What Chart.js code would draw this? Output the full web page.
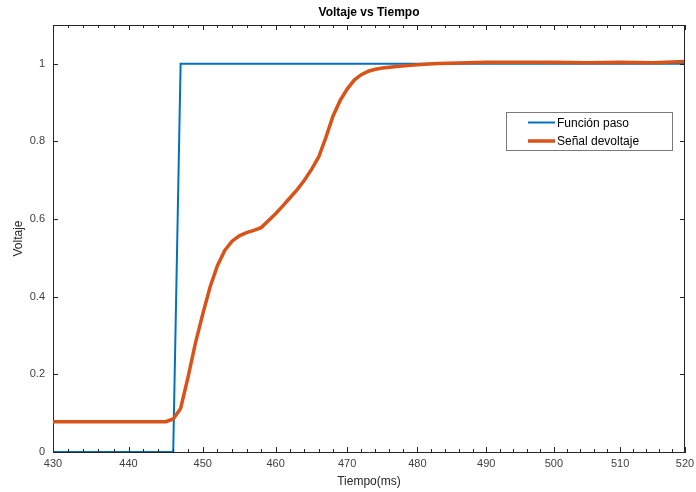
<!DOCTYPE html>
<html>
<head>
<meta charset="utf-8">
<script src="https://cdn.jsdelivr.net/npm/chart.js@4/dist/chart.umd.min.js"></script>
<style>
  html, body { margin: 0; padding: 0; background: #fff; }
</style>
</head>
<body>
<canvas id="myChart" width="696" height="492"></canvas>
<script>
// step input (blue line)
const stepTime = [430, 446, 447, 520];
const stepVolt = [0, 0, 1, 1];

const signalTime = [430, 445, 446, 447, 448, 449, 450, 451, 452, 453, 454, 455, 456, 457, 458, 459,
    460, 461, 462, 463, 464, 465, 466, 467, 468, 469, 470, 471, 472, 473, 474, 475, 477, 479, 481,
    483, 486, 490, 495, 500, 505, 510, 515, 518, 520];
const signalVolt = [0.078, 0.078, 0.085, 0.112, 0.192, 0.28, 0.355, 0.425, 0.48, 0.519, 0.543, 0.557, 0.565, 0.571, 0.578, 0.596,
    0.614, 0.634, 0.655, 0.676, 0.70, 0.728, 0.76, 0.81, 0.865, 0.905, 0.935, 0.958, 0.972, 0.981, 0.986, 0.989, 0.993, 0.996, 0.999,
    1.001, 1.002, 1.004, 1.004, 1.004, 1.003, 1.004, 1.003, 1.005, 1.006];

const seriesLabels = ['Función paso', 'Señal devoltaje'];
const seriesColors = ['#0072BD', '#D95319'];

const xTicks = [430, 440, 450, 460, 470, 480, 490, 500, 510, 520];
const xMinorStep = 2;
const yTicks = [0, 0.2, 0.4, 0.6, 0.8, 1];

const FONT = '"Liberation Sans", Arial, Helvetica, sans-serif';
const AXIS_COLOR = '#262626';

// the x axis in the picture is squeezed toward the right (ticks 76px apart on the
// left, 64px on the right), so use a linear scale with a small quadratic warp
const warp = 0.085;
class WarpedScale extends Chart.LinearScale {
    getPixelForValue(value) {
        const d = (value - this.min) / (this.max - this.min);
        return this.getPixelForDecimal((1 + warp) * d - warp * d * d);
    }
    getValueForPixel(pixel) {
        const f = this.getDecimalForPixel(pixel);
        const d = ((1 + warp) - Math.sqrt((1 + warp) * (1 + warp) - 4 * warp * f)) / (2 * warp);
        return this.min + d * (this.max - this.min);
    }
}
WarpedScale.id = 'warped';
WarpedScale.defaults = Chart.LinearScale.defaults;
Chart.register(WarpedScale);

const toPoints = (xs, ys) => xs.map((x, i) => ({x: x, y: ys[i]}));

// matlab look: box, inward ticks, title over the axes, legend inside
const matlabAxes = {
    id: 'matlabAxes',
    afterDraw(chart) {
        const c = chart.ctx;
        const a = chart.chartArea;
        const xs = chart.scales.x;
        const ys = chart.scales.y;
        c.save();
        c.strokeStyle = AXIS_COLOR;
        c.lineWidth = 1;
        c.beginPath();
        // top + right side of the box
        c.moveTo(a.left, a.top + 0.5);
        c.lineTo(a.right, a.top + 0.5);
        c.moveTo(a.right - 0.5, a.top);
        c.lineTo(a.right - 0.5, a.bottom);
        // x ticks (major and minor), bottom and top
        for (let v = xs.min; v <= xs.max; v += xMinorStep) {
            const px = Math.round(xs.getPixelForValue(v)) + 0.5;
            const len = xTicks.includes(v) ? 5 : 3;
            c.moveTo(px, a.bottom);
            c.lineTo(px, a.bottom - len);
            c.moveTo(px, a.top);
            c.lineTo(px, a.top + len);
        }
        // y ticks, left and right
        yTicks.forEach(v => {
            const py = Math.round(ys.getPixelForValue(v)) + 0.5;
            c.moveTo(a.left, py);
            c.lineTo(a.left + 5, py);
            c.moveTo(a.right, py);
            c.lineTo(a.right - 5, py);
        });
        c.stroke();

        // title centred over the axes
        c.fillStyle = '#000';
        c.font = 'bold 12px ' + FONT;
        c.textAlign = 'center';
        c.textBaseline = 'middle';
        c.fillText('Voltaje vs Tiempo', (a.left + a.right) / 2, 13);

        // legend box
        const boxW = 166, boxH = 38;
        const bx = a.right - 13 - boxW;
        const by = a.top + 87;
        c.fillStyle = '#fff';
        c.fillRect(bx, by, boxW, boxH);
        c.strokeStyle = '#7a7a7a';
        c.strokeRect(bx + 0.5, by + 0.5, boxW, boxH);
        c.font = '12px ' + FONT;
        c.textAlign = 'left';
        seriesLabels.forEach((label, i) => {
            const ly = by + 10.5 + i * 18.5;
            c.strokeStyle = seriesColors[i];
            c.lineWidth = i === 0 ? 2 : 3.5;
            c.beginPath();
            c.moveTo(bx + 22, ly);
            c.lineTo(bx + 49, ly);
            c.stroke();
            c.fillStyle = '#000';
            c.fillText(label, bx + 51, ly + 1);
        });
        c.restore();
    }
};

new Chart(document.getElementById('myChart'), {
    type: 'line',
    data: {
        datasets: [
            {
                label: seriesLabels[0],
                data: toPoints(stepTime, stepVolt),
                borderColor: seriesColors[0],
                borderWidth: 2,
                pointRadius: 0,
                tension: 0,
                order: 1
            },
            {
                label: seriesLabels[1],
                data: toPoints(signalTime, signalVolt),
                borderColor: seriesColors[1],
                borderWidth: 3.5,
                pointRadius: 0,
                tension: 0,
                order: 0
            }
        ]
    },
    options: {
        responsive: false,
        animation: false,
        layout: {padding: {top: 25, right: 11, left: 0, bottom: 0}},
        plugins: {
            legend: {display: false},
            tooltip: {enabled: false}
        },
        scales: {
            x: {
                type: 'warped',
                min: 430,
                max: 520,
                afterBuildTicks: (s) => { s.ticks = xTicks.map(v => ({value: v})); },
                afterFit: (s) => {
                    s.height = 40;
                    // don't let the last label push the plot in
                    s.paddingLeft = 0;
                    s.paddingRight = 0;
                },
                grid: {drawOnChartArea: false, drawTicks: false},
                border: {color: AXIS_COLOR},
                ticks: {
                    color: '#404040',
                    font: {size: 11, family: FONT},
                    padding: 5,
                    maxRotation: 0,
                    autoSkip: false,
                    callback: (v) => String(v)
                },
                title: {
                    display: true,
                    text: 'Tiempo(ms)',
                    color: '#262626',
                    font: {size: 12, family: FONT},
                    padding: {top: 0, bottom: 3}
                }
            },
            y: {
                min: 0,
                max: 1.1,
                afterBuildTicks: (s) => { s.ticks = yTicks.map(v => ({value: v})); },
                afterFit: (s) => { s.width = 53; },
                grid: {drawOnChartArea: false, drawTicks: false},
                border: {color: AXIS_COLOR},
                ticks: {
                    color: '#404040',
                    font: {size: 11, family: FONT},
                    padding: 8,
                    autoSkip: false,
                    callback: (v) => String(Math.round(v * 10) / 10)
                },
                title: {
                    display: true,
                    text: 'Voltaje',
                    color: '#262626',
                    font: {size: 12, family: FONT},
                    padding: {top: 11, bottom: 0}
                }
            }
        }
    },
    plugins: [matlabAxes]
});
</script>
</body>
</html>
